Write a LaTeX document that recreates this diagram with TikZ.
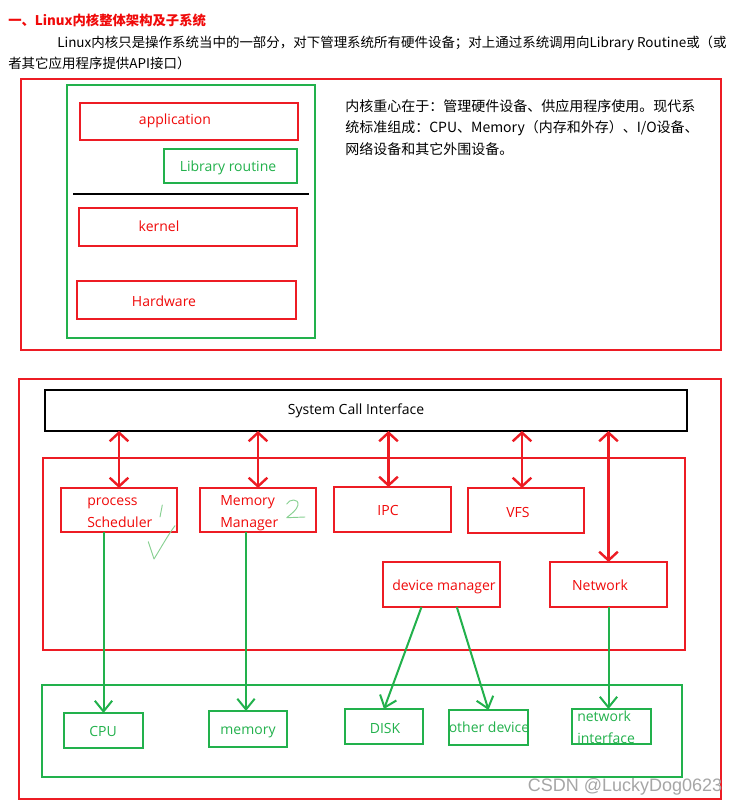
\documentclass[tikz,border=0pt]{standalone}
\usepackage{fontspec}
\setmainfont{Open Sans}
\newfontfamily\cjk{Noto Sans CJK SC}
\newfontfamily\wmfont{Liberation Sans}
\usetikzlibrary{arrows.meta,fit,calc}
\definecolor{bred}{RGB}{237,28,36}
\definecolor{tred}{RGB}{240,10,10}
\definecolor{bgreen}{RGB}{34,177,76}
\definecolor{hgreen}{RGB}{135,208,145}
\begin{document}
\begin{tikzpicture}[x=0.75pt,y=-0.75pt,
  rbox/.style={draw=bred,line width=1.6pt,inner sep=0pt,outer sep=0pt},
  gbox/.style={draw=bgreen,line width=1.6pt,inner sep=0pt,outer sep=0pt},
  kbox/.style={draw=black,line width=2pt,inner sep=0pt,outer sep=0pt},
  lbl/.style={inner sep=0pt,font=\fontsize{10.5}{16.5}\selectfont},
  dsc/.style={yshift=-1.5pt},
  rlbl/.style={lbl,text=tred},
  glbl/.style={lbl,text=bgreen},
  redarr/.style={draw=bred,line width=1.8pt,{Straight Barb[length=6.5pt,width=14pt]}-{Straight Barb[length=6.5pt,width=14pt]}},
  grnarr/.style={draw=bgreen,line width=1.5pt,-{Straight Barb[length=8pt,width=13pt]}},
  hand/.style={draw=hgreen,line width=0.7pt,line cap=round,line join=round}]
\useasboundingbox[fill=white] (0,0) rectangle (742,808);

% header text
\node[anchor=west,inner sep=0pt,text=tred,font=\cjk\bfseries\fontsize{10}{12}\selectfont] (title) at (8,20) {一、Linux内核整体架构及子系统};
\node[anchor=north west,inner sep=0pt,align=left,font=\cjk\fontsize{10.1}{15.75}\selectfont] (intro) at (8,36)
  {\hspace*{36.75pt}Linux内核只是操作系统当中的一部分，对下管理系统所有硬件设备；对上通过系统调用向Library Routine或（或\\者其它应用程序提供API接口）};

% top figure
\node[rbox,fit={(21,79)(721,350)}] (topframe) {};
\node[gbox,fit={(67,85)(315,338)}] (layers) {};
\node[rbox,fit={(80,103)(298,140)}] (app) {};
\node[rlbl,dsc] (applbl) at (175,119) {application};
\node[gbox,fit={(164,149)(297,183)}] (lib) {};
\node[glbl,dsc] (liblbl) at (228,166) {Library routine};
\coordinate (divl) at (73,194);
\coordinate (divr) at (309,194);
\draw[line width=1.6pt] (divl) -- (divr);
\node[rbox,fit={(79,208)(297,246)}] (kern) {};
\node[rlbl] (kernlbl) at (159,226) {kernel};
\node[rbox,fit={(77,281)(296,319)}] (hw) {};
\node[rlbl] (hwlbl) at (164,301) {Hardware};
\node[anchor=north west,inner sep=0pt,align=left,font=\cjk\fontsize{10.5}{16.3}\selectfont] (desc) at (345,99)
  {内核重心在于：管理硬件设备、供应用程序使用。现代系\\统标准组成：CPU、Memory（内存和外存）、I/O设备、\\网络设备和其它外围设备。};

% bottom figure
\node[rbox,fit={(19,379)(721,799)}] (botframe) {};
\node[kbox,fit={(45,390)(687,431)}] (sci) {};
\node[lbl,dsc] (scilbl) at (356,409) {System Call Interface};
\node[rbox,fit={(43,458)(685,650)}] (kspace) {};
\node[rbox,fit={(61,488)(177,532)}] (sched) {};
\node[rlbl,dsc,anchor=west,align=left] (schedlbl) at (87,511) {process\\Scheduler};
\node[rbox,fit={(200,488)(316,532)}] (mm) {};
\node[rlbl,dsc,anchor=west,align=left] (mmlbl) at (220,511) {Memory\\Manager};
\node[rbox,fit={(334,487)(451,532)}] (ipc) {};
\node[rlbl] (ipclbl) at (388,510) {IPC};
\node[rbox,fit={(468,488)(584,533)}] (vfs) {};
\node[rlbl] (vfslbl) at (518,512) {VFS};
\node[rbox,fit={(383,562)(500,607)}] (devm) {};
\node[rlbl,dsc] (devmlbl) at (444,585) {device manager};
\node[rbox,fit={(550,562)(667,607)}] (net) {};
\node[rlbl] (netlbl) at (600,585) {Network};

\node[gbox,fit={(42,685)(682,777)}] (hwspace) {};
\node[gbox,fit={(64,713)(143,748)}] (cpu) {};
\node[glbl] (cpulbl) at (103,731) {CPU};
\node[gbox,fit={(209,711)(287,747)}] (mem) {};
\node[glbl,dsc] (memlbl) at (248,730) {memory};
\node[gbox,fit={(345,709)(423,744)}] (disk) {};
\node[glbl] (disklbl) at (385,728) {DISK};
\node[gbox,fit={(449,710)(528,745)}] (other) {};
\node[glbl] (otherlbl) at (489,727) {other device};
\node[gbox,fit={(572,709)(651,744)}] (netif) {};
\node[glbl,anchor=west,align=left] (netiflbl) at (577,727) {network\\interface};

% red double arrows
\draw[redarr] (sched.north |- sci.south) -- (sched.north);
\draw[redarr] (mm.north |- sci.south) -- (mm.north);
\draw[redarr] ([xshift=-3pt]ipc.north |- sci.south) -- ([xshift=-3pt]ipc.north);
\draw[redarr] ([xshift=-3pt]vfs.north |- sci.south) -- ([xshift=-3pt]vfs.north);
\draw[redarr] (net.north |- sci.south) -- (net.north);

% green arrows
\draw[grnarr] (cpu.north |- sched.south) -- (cpu.north);
\draw[grnarr] ([xshift=-1.5pt]mem.north |- mm.south) -- ([xshift=-1.5pt]mem.north);
\draw[grnarr] ([xshift=-15pt]devm.south) -- (disk.north);
\draw[grnarr] ([xshift=11.5pt]devm.south) -- (other.north);
\draw[grnarr] (net.south) -- (net.south |- netif.north);

% handwritten marks
\draw[hand] (162.3,505) -- (160,517);
\draw[hand] (148.3,541.7) .. controls (151,550) .. (154,559) .. controls (162,546) and (168,535) .. (175,525.7);
\draw[hand] (286.7,504) .. controls (289,499) and (299,498) .. (298,505) .. controls (297,510) and (291,514) .. (286.7,517.7) -- (305,517);

% watermark
\node[inner sep=0pt,text=gray!70,font=\wmfont\fontsize{13.5}{16}\selectfont] (wm) at (625,787) {CSDN @LuckyDog0623};
\end{tikzpicture}
\end{document}
